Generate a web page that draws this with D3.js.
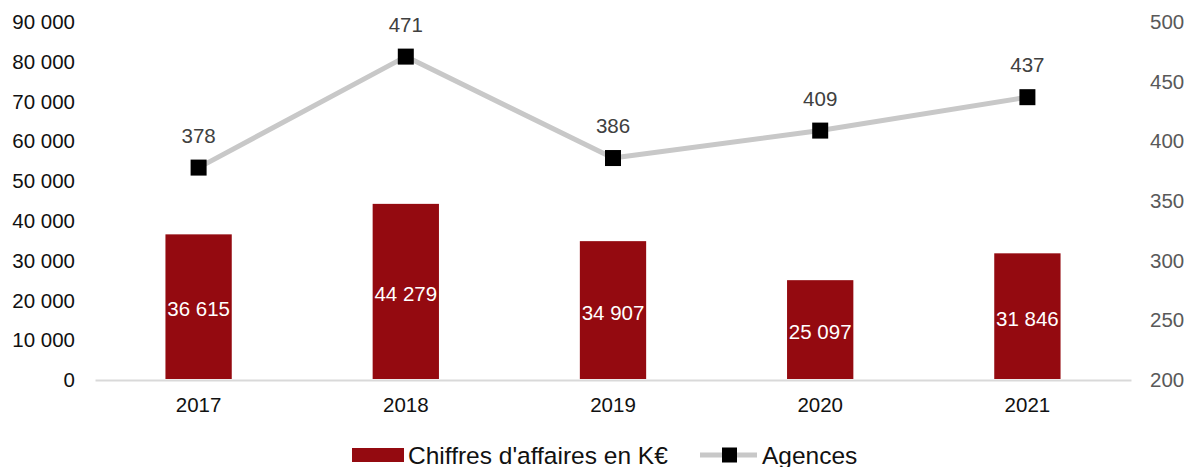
<!DOCTYPE html>
<html>
<head>
<meta charset="utf-8">
<script src="https://cdn.jsdelivr.net/npm/d3@7"></script>
<style>
  body { margin: 0; background: #fff; }
  text { font-family: "Liberation Sans", Arial, sans-serif; }
</style>
</head>
<body>
<svg id="chart" width="1189" height="467"></svg>
<script>
const years = ["2017", "2018", "2019", "2020", "2021"];
const revenue = [36615, 44279, 34907, 25097, 31846];
const agencies = [378, 471, 386, 409, 437];
const leftTicks = [0, 10000, 20000, 30000, 40000, 50000, 60000, 70000, 80000, 90000];
const rightTicks = [200, 250, 300, 350, 400, 450, 500];

const svg = d3.select("#chart");
const margin = { top: 22, right: 58, bottom: 87, left: 95 };
const width = +svg.attr("width");
const height = +svg.attr("height");
const innerWidth = width - margin.left - margin.right;
const innerHeight = height - margin.top - margin.bottom;

const fmt = v => d3.format(",")(v).replace(/,/g, " ");

const x = d3.scaleBand()
    .domain(years)
    .range([0, innerWidth])
    .paddingInner(0.68)
    .paddingOuter(0.34);

const yLeft = d3.scaleLinear().domain([0, 90000]).range([innerHeight, 0]);
const yRight = d3.scaleLinear().domain([200, 500]).range([innerHeight, 0]);

const g = svg.append("g").attr("transform", `translate(${margin.left},${margin.top})`);

// axes
const leftAxis = g.append("g")
    .call(d3.axisLeft(yLeft).tickValues(leftTicks).tickFormat(fmt).tickSize(0).tickPadding(20));
leftAxis.select(".domain").remove();
leftAxis.selectAll("text").attr("font-size", 20.5).attr("fill", "#111");

const rightAxis = g.append("g")
    .attr("transform", `translate(${innerWidth},0)`)
    .call(d3.axisRight(yRight).tickValues(rightTicks).tickSize(0).tickPadding(19));
rightAxis.select(".domain").remove();
rightAxis.selectAll("text").attr("font-size", 20.5).attr("fill", "#595959");

const bottomAxis = g.append("g")
    .attr("transform", `translate(0,${innerHeight})`)
    .call(d3.axisBottom(x).tickSize(0).tickPadding(17));
bottomAxis.select(".domain").attr("stroke", "#d9d9d9").attr("stroke-width", 2);
bottomAxis.selectAll("text").attr("font-size", 20.5).attr("fill", "#111");

// bars
const data = years.map((yr, i) => ({ year: yr, revenue: revenue[i], agencies: agencies[i] }));

g.selectAll(".bar")
    .data(data)
    .enter()
    .append("rect")
    .attr("class", "bar")
    .attr("x", d => x(d.year))
    .attr("y", d => yLeft(d.revenue))
    .attr("width", x.bandwidth())
    .attr("height", d => innerHeight - yLeft(d.revenue) - 1)
    .attr("fill", "#940a10");

g.selectAll(".bar-label")
    .data(data)
    .enter()
    .append("text")
    .attr("x", d => x(d.year) + x.bandwidth() / 2)
    .attr("y", d => (yLeft(d.revenue) + innerHeight) / 2 + 2)
    .attr("dy", "0.35em")
    .attr("text-anchor", "middle")
    .attr("font-size", 20.5)
    .attr("fill", "#fff")
    .text(d => fmt(d.revenue));

// line
const cx = d => x(d.year) + x.bandwidth() / 2;
const line = d3.line().x(cx).y(d => yRight(d.agencies));

g.append("path")
    .datum(data)
    .attr("fill", "none")
    .attr("stroke", "#c8c8c8")
    .attr("stroke-width", 5)
    .attr("stroke-linejoin", "round")
    .attr("d", line);

g.selectAll(".marker")
    .data(data)
    .enter()
    .append("rect")
    .attr("x", d => cx(d) - 8)
    .attr("y", d => yRight(d.agencies) - 8)
    .attr("width", 16)
    .attr("height", 16)
    .attr("fill", "#000");

g.selectAll(".line-label")
    .data(data)
    .enter()
    .append("text")
    .attr("x", cx)
    .attr("y", d => yRight(d.agencies) - 32)
    .attr("dy", "0.35em")
    .attr("text-anchor", "middle")
    .attr("font-size", 20.5)
    .attr("fill", "#404040")
    .text(d => d.agencies);

// legend
const legend = svg.append("g").attr("transform", "translate(0,455)");
legend.append("rect").attr("x", 352).attr("y", -7).attr("width", 52).attr("height", 14).attr("fill", "#940a10");
legend.append("text").attr("x", 408).attr("y", 0).attr("dy", "0.35em")
    .attr("font-size", 24.5).attr("fill", "#111").text("Chiffres d'affaires en K€");
legend.append("line").attr("x1", 700).attr("x2", 757).attr("y1", 0).attr("y2", 0)
    .attr("stroke", "#c8c8c8").attr("stroke-width", 5);
legend.append("rect").attr("x", 722).attr("y", -7.5).attr("width", 15).attr("height", 15).attr("fill", "#000");
legend.append("text").attr("x", 762).attr("y", 0).attr("dy", "0.35em")
    .attr("font-size", 24.5).attr("fill", "#111").text("Agences");
</script>
</body>
</html>
